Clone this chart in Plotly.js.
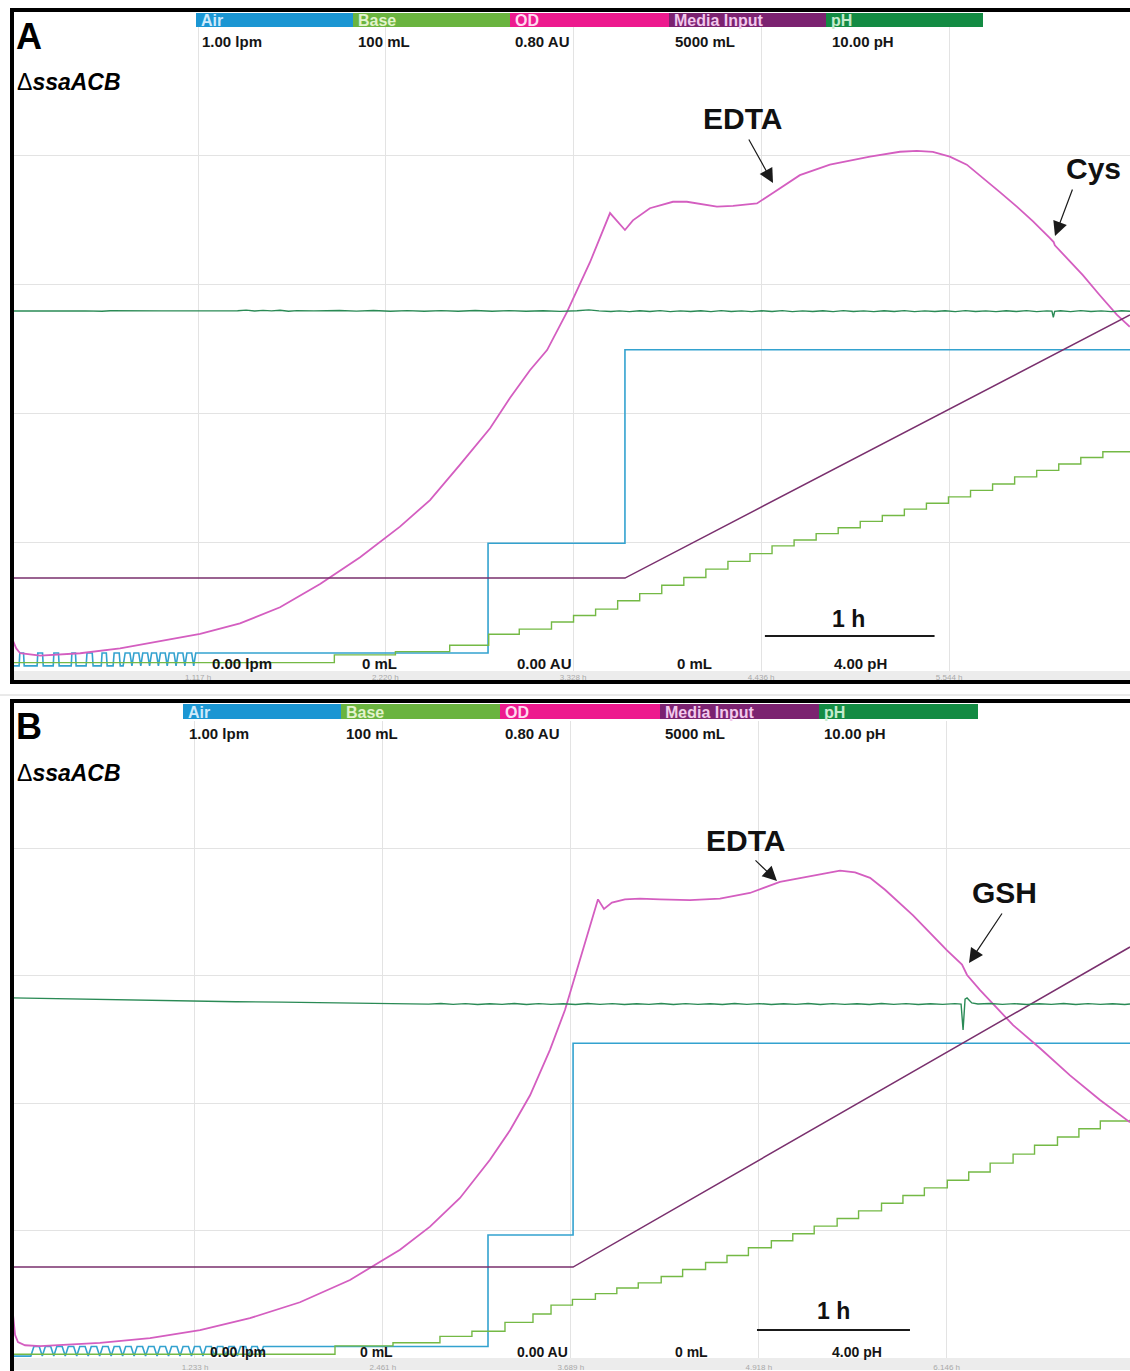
<!DOCTYPE html>
<html><head><meta charset="utf-8">
<script src="https://cdn.plot.ly/plotly-3.0.1.min.js"></script>
<style>html,body{margin:0;padding:0;background:#fff;} #chart{width:1130px;height:1371px;}</style>
</head><body><div id="chart"></div>
<script>
// ---------------- DATA (time in hours) ----------------
// Panel A
const A_tickvals = [1.117, 2.220, 3.328, 4.436, 5.544];
const A_ticktext = ["1.117 h", "2.220 h", "3.328 h", "4.436 h", "5.544 h"];
const A_air_t = [0.02, 0.062,0.066,0.088,0.092, 0.168,0.172,0.200,0.204, 0.263,0.267,0.294,0.298, 0.369,0.373,0.394,0.398, 0.457,0.462,0.493,0.498, 0.546,0.551,0.576,0.581, 0.616,0.622,0.652,0.658, 0.675,0.687,0.715,0.727,0.739,0.767,0.779,0.791,0.819,0.831,0.843,0.871,0.883,0.895,0.923,0.935,0.947,0.975,0.987,0.999,1.027,1.039,1.051,1.079,1.091,1.103, 2.826,2.826,3.633,3.633,6.61];
const A_air_v = [0.008, 0.008,0.028,0.028,0.008, 0.008,0.028,0.028,0.008, 0.008,0.028,0.028,0.008, 0.008,0.028,0.028,0.008, 0.008,0.028,0.028,0.008, 0.008,0.028,0.028,0.008, 0.008,0.028,0.028,0.008, 0.008,0.028,0.028,0.008,0.028,0.028,0.008,0.028,0.028,0.008,0.028,0.028,0.008,0.028,0.028,0.008,0.028,0.028,0.008,0.028,0.028,0.008,0.028,0.028,0.008,0.028, 0.028,0.198,0.198,0.498,0.498];
const A_base_t = [0.02,1.92,2.28,2.60,2.83,3.01,3.20,3.33,3.46,3.59,3.72,3.85,3.98,4.11,4.24,4.37,4.50,4.63,4.76,4.89,5.02,5.15,5.28,5.41,5.54,5.67,5.80,5.93,6.06,6.19,6.32,6.45,6.61];
const A_base_v = [1.3,2.5,3.0,4.0,5.7,6.5,7.6,8.6,9.6,10.9,12.0,13.3,14.5,15.8,17.0,18.2,19.4,20.3,21.3,22.2,23.2,24.1,25.1,26.0,27.0,28.0,29.0,30.1,31.1,32.1,33.1,34.0,34.0];
const A_od_t = [0.021,0.045,0.068,0.186,0.422,0.657,0.893,1.129,1.364,1.600,1.836,2.072,2.307,2.484,2.661,2.838,2.956,3.073,3.174,3.291,3.427,3.545,3.633,3.680,3.780,3.916,3.998,4.175,4.270,4.411,4.505,4.664,4.841,5.077,5.254,5.354,5.448,5.548,5.648,5.743,5.843,5.943,6.037,6.138,6.160,6.167,6.238,6.332,6.432,6.532,6.609];
const A_od_v = [0.040,0.028,0.022,0.019,0.022,0.028,0.037,0.046,0.059,0.079,0.108,0.141,0.179,0.212,0.256,0.301,0.339,0.373,0.398,0.445,0.507,0.568,0.547,0.559,0.574,0.582,0.582,0.576,0.577,0.580,0.593,0.615,0.628,0.638,0.644,0.645,0.644,0.638,0.628,0.612,0.594,0.576,0.558,0.537,0.532,0.528,0.512,0.491,0.466,0.442,0.427];
const A_media_t = [0.02, 3.633, 6.61];
const A_media_v = [720, 720, 2760];
const A_ph_t = [0.02,0.22,0.25,0.30,0.45,0.55,0.60,0.90,1.20,1.30,1.35,1.40,1.45,1.50,1.55,1.60,1.65,1.70,1.80,1.95,2.05,2.15,2.25,2.35,2.45,2.55,2.65,2.75,2.85,2.95,3.05,3.15,3.25,3.35,3.42,3.48,3.55,3.60,3.66,3.72,3.78,3.84,3.90,3.96,4.02,4.08,4.14,4.20,4.26,4.32,4.38,4.44,4.50,4.56,4.62,4.68,4.74,4.80,4.86,4.92,4.98,5.04,5.10,5.16,5.22,5.28,5.34,5.40,5.46,5.52,5.58,5.64,5.70,5.76,5.82,5.88,5.94,6.00,6.06,6.12,6.150,6.158,6.166,6.20,6.26,6.32,6.38,6.44,6.50,6.56,6.61];
const A_ph_v = [7.349,7.349,7.356,7.354,7.350,7.346,7.351,7.350,7.350,7.354,7.351,7.357,7.349,7.355,7.350,7.356,7.347,7.352,7.350,7.354,7.348,7.353,7.347,7.352,7.346,7.352,7.347,7.353,7.347,7.352,7.346,7.351,7.345,7.351,7.359,7.350,7.344,7.350,7.343,7.351,7.344,7.352,7.343,7.350,7.344,7.351,7.343,7.352,7.344,7.350,7.343,7.351,7.344,7.352,7.343,7.350,7.344,7.351,7.343,7.352,7.344,7.350,7.343,7.351,7.344,7.352,7.343,7.350,7.344,7.351,7.343,7.352,7.344,7.350,7.343,7.351,7.344,7.352,7.343,7.350,7.348,7.290,7.345,7.351,7.343,7.352,7.344,7.350,7.343,7.351,7.346];

// Panel B
const B_tickvals = [1.233, 2.461, 3.689, 4.918, 6.146];
const B_ticktext = ["1.233 h", "2.461 h", "3.689 h", "4.918 h", "6.146 h"];
const B_air_t = [0.037, 0.160,0.180,0.215, 0.235,0.255,0.290, 0.310,0.330,0.365, 0.385,0.405,0.440, 0.460,0.480,0.515, 0.535,0.555,0.590, 0.610,0.630,0.665, 0.685,0.705,0.740, 0.760,0.780,0.815, 0.835,0.855,0.890, 0.910,0.930,0.965, 0.985,1.005,1.040, 1.060,1.080,1.115, 1.135,1.155,1.190, 1.210,1.230,1.265, 1.285,1.305,1.340, 1.360,1.380,1.415, 1.435,1.455,1.490, 1.510,1.530,1.565, 1.585,1.605,1.640, 1.660,1.680, 3.148,3.148,3.704,3.704,7.344];
const B_air_v = [0.003, 0.003,0.018,0.018, 0.003,0.018,0.018, 0.003,0.018,0.018, 0.003,0.018,0.018, 0.003,0.018,0.018, 0.003,0.018,0.018, 0.003,0.018,0.018, 0.003,0.018,0.018, 0.003,0.018,0.018, 0.003,0.018,0.018, 0.003,0.018,0.018, 0.003,0.018,0.018, 0.003,0.018,0.018, 0.003,0.018,0.018, 0.003,0.018,0.018, 0.003,0.018,0.018, 0.003,0.018,0.018, 0.003,0.018,0.018, 0.003,0.018,0.018, 0.003,0.018,0.018, 0.003,0.018, 0.018,0.193,0.193,0.494,0.494];
const B_base_t = [0.037,2.148,2.527,2.834,3.043,3.259,3.442,3.56,3.70,3.85,3.99,4.13,4.28,4.42,4.57,4.71,4.85,5.00,5.14,5.28,5.43,5.57,5.72,5.86,6.00,6.15,6.29,6.43,6.58,6.72,6.87,7.01,7.15,7.344];
const B_base_v = [0.6,1.9,2.4,3.4,4.2,5.6,6.9,8.3,9.2,10.1,11.0,11.8,12.8,13.9,15.0,16.1,17.3,18.4,19.5,20.7,21.9,23.1,24.3,25.5,26.7,27.9,29.2,30.6,32.0,33.4,34.7,36.0,37.2,37.4];
const B_od_t = [0.037,0.057,0.076,0.122,0.220,0.612,0.939,1.266,1.592,1.919,2.246,2.573,2.769,2.965,3.161,3.292,3.423,3.553,3.651,3.749,3.828,3.867,3.906,3.958,4.043,4.141,4.272,4.468,4.664,4.860,5.056,5.253,5.449,5.547,5.645,5.743,5.841,5.926,6.037,6.148,6.246,6.279,6.364,6.475,6.580,6.756,6.952,7.148,7.344];
const B_od_v = [0.067,0.029,0.020,0.016,0.015,0.019,0.025,0.035,0.050,0.070,0.098,0.136,0.165,0.201,0.249,0.286,0.330,0.387,0.437,0.500,0.553,0.576,0.564,0.572,0.576,0.577,0.576,0.575,0.577,0.584,0.598,0.605,0.612,0.610,0.603,0.588,0.571,0.556,0.534,0.512,0.494,0.481,0.462,0.440,0.418,0.389,0.355,0.324,0.296];
const B_media_t = [0.037, 3.704, 7.344];
const B_media_v = [714, 714, 3226];
const B_ph_t = [0.037,0.3,0.6,0.9,1.2,1.5,1.8,2.1,2.4,2.7,2.76,2.84,2.92,3.00,3.08,3.16,3.24,3.32,3.40,3.48,3.56,3.64,3.72,3.80,3.88,3.96,4.04,4.12,4.20,4.28,4.36,4.44,4.52,4.60,4.68,4.76,4.84,4.92,5.00,5.08,5.16,5.24,5.32,5.40,5.48,5.56,5.64,5.72,5.80,5.88,5.96,6.04,6.12,6.20,6.240,6.253,6.266,6.279,6.31,6.35,6.43,6.51,6.59,6.67,6.75,6.83,6.91,6.99,7.07,7.15,7.23,7.31,7.344];
const B_ph_v = [7.392,7.385,7.378,7.370,7.362,7.356,7.352,7.345,7.341,7.338,7.333,7.339,7.331,7.338,7.330,7.337,7.331,7.339,7.330,7.338,7.331,7.337,7.330,7.339,7.331,7.338,7.330,7.337,7.331,7.339,7.330,7.338,7.331,7.337,7.330,7.339,7.331,7.338,7.330,7.337,7.331,7.339,7.330,7.338,7.331,7.337,7.330,7.339,7.331,7.338,7.330,7.337,7.331,7.338,7.334,7.089,7.380,7.391,7.345,7.334,7.339,7.331,7.338,7.330,7.337,7.331,7.339,7.330,7.338,7.331,7.337,7.330,7.335];

// channel header: names, full-scale and zero labels
const channels = ["Air", "Base", "OD", "Media Input", "pH"];
const maxLabels = ["1.00 lpm", "100 mL", "0.80 AU", "5000 mL", "10.00 pH"];
const minLabels = ["0.00 lpm", "0 mL", "0.00 AU", "0 mL", "4.00 pH"];
const scaleMin = [0, 0, 0, 0, 4];
const scaleMax = [1, 100, 0.8, 5000, 10];

// ---------------- STYLE ----------------
const W = 1130, H = 1371;
const FONT = 'Liberation Sans, Arial, Helvetica, sans-serif';
const px = x => x / W;
const py = y => 1 - y / H;
const barColors = ['#1b96d3', '#6ab43f', '#ed1a8e', '#7b2270', '#138b43'];
const barText = ['#cfeafb', '#e2f3cc', '#ffd9ef', '#f2c8ec', '#c3ebcd'];
const lineColors = {air: '#33a2cf', base: '#74b945', od: '#d45ec0', media: '#7a306e', ph: '#2a8a55'};

function tr(x, y, xa, ya, color, width, shape) {
  return {type: 'scatter', mode: 'lines', x: x, y: y, xaxis: xa, yaxis: ya,
    line: {color: color, width: width, shape: shape || 'linear'}, hoverinfo: 'skip', showlegend: false};
}

const data = [
  tr(A_base_t, A_base_v, 'x', 'y2', lineColors.base, 1.4, 'hv'),
  tr(A_media_t, A_media_v, 'x', 'y4', lineColors.media, 1.5),
  tr(A_ph_t, A_ph_v, 'x', 'y5', lineColors.ph, 1.4),
  tr(A_air_t, A_air_v, 'x', 'y', lineColors.air, 1.6),
  tr(A_od_t, A_od_v, 'x', 'y3', lineColors.od, 1.8),
  tr(B_base_t, B_base_v, 'x2', 'y7', lineColors.base, 1.4, 'hv'),
  tr(B_media_t, B_media_v, 'x2', 'y9', lineColors.media, 1.5),
  tr(B_ph_t, B_ph_v, 'x2', 'y10', lineColors.ph, 1.4),
  tr(B_air_t, B_air_v, 'x2', 'y6', lineColors.air, 1.6),
  tr(B_od_t, B_od_v, 'x2', 'y8', lineColors.od, 1.8)
];

// panel geometry (pixels)
const P = [
  {top: 26, bottom: 671, xr: [0.02, 6.61], tv: A_tickvals, tt: A_ticktext, border: [10, 682], barTop: 13, barBot: 27,
   bars: [196, 353, 510, 669, 826, 983], valY: 42, minY: 663, minSize: 15, standoff: 0, minX: [210, 360, 515, 675, 832], maxX: [200, 356, 513, 673, 830],
   letter: 'A', letterY: 36, strainY: 82, scale: [4.458, 5.458], scaleY: 636, scaleTextX: 848, scaleTextY: 619},
  {top: 721, bottom: 1358, xr: [0.037, 7.344], tv: B_tickvals, tt: B_ticktext, border: [701, 1400], barTop: 704, barBot: 719,
   bars: [183, 341, 500, 660, 819, 978], valY: 733, minY: 1352, minSize: 14, standoff: 3, minX: [208, 358, 515, 673, 830], maxX: [187, 344, 503, 663, 822],
   letter: 'B', letterY: 727, strainY: 773, scale: [4.906, 5.906], scaleY: 1330, scaleTextX: 833, scaleTextY: 1311}
];

const layout = {
  width: W, height: H, margin: {l: 0, r: 0, t: 0, b: 0},
  paper_bgcolor: '#ffffff', plot_bgcolor: 'rgba(0,0,0,0)', showlegend: false,
  font: {family: FONT},
  shapes: [], annotations: []
};

P.forEach((p, i) => {
  const xk = i === 0 ? 'xaxis' : 'xaxis2';
  const xid = i === 0 ? 'x' : 'x2';
  const baseY = i === 0 ? 1 : 6;
  const baseId = 'y' + (baseY === 1 ? '' : baseY);
  layout[xk] = {domain: [px(12), 1], range: p.xr, anchor: baseId, tickvals: p.tv, ticktext: p.tt,
    ticks: '', showline: false, zeroline: false, showgrid: true, gridcolor: '#e3e3e3', gridwidth: 1,
    tickfont: {family: FONT, size: 8, color: '#a9a9a9'}, ticklabelstandoff: p.standoff, fixedrange: true};
  for (let k = 0; k < 5; k++) {
    const n = baseY + k;
    const key = 'yaxis' + (n === 1 ? '' : n);
    const ax = {range: [scaleMin[k], scaleMax[k]], anchor: xid, fixedrange: true};
    if (k === 0) {
      Object.assign(ax, {domain: [py(p.bottom), py(p.top)], showgrid: true, gridcolor: '#e3e3e3',
        tickvals: [0.2, 0.4, 0.6, 0.8], showticklabels: false, ticks: '', zeroline: false, showline: false});
    } else {
      Object.assign(ax, {overlaying: baseId, visible: false});
    }
    layout[key] = ax;
  }
  // tick-label strip
  layout.shapes.push({type: 'rect', xref: 'paper', yref: 'paper', x0: px(12), x1: 1, y0: py(p.bottom + 12), y1: py(p.bottom),
    fillcolor: '#ececec', line: {width: 0}, layer: 'below'});
  // header bars
  for (let k = 0; k < 5; k++) {
    layout.shapes.push({type: 'rect', xref: 'paper', yref: 'paper', x0: px(p.bars[k]), x1: px(p.bars[k + 1]),
      y0: py(p.barBot), y1: py(p.barTop), fillcolor: barColors[k], line: {width: 0}, layer: 'above'});
    layout.annotations.push({xref: 'paper', yref: 'paper', x: px(p.bars[k] + 3), y: py((p.barTop + p.barBot) / 2 + 1),
      xanchor: 'left', yanchor: 'middle', showarrow: false, text: '<b>' + channels[k] + '</b>',
      font: {family: FONT, size: 16, color: barText[k]}});
    layout.annotations.push({xref: 'paper', yref: 'paper', x: px(p.maxX[k]), y: py(p.valY),
      xanchor: 'left', yanchor: 'middle', showarrow: false, text: '<b>' + maxLabels[k] + '</b>',
      font: {family: FONT, size: 15, color: '#151515'}});
    layout.annotations.push({xref: 'paper', yref: 'paper', x: px(p.minX[k]), y: py(p.minY),
      xanchor: 'left', yanchor: 'middle', showarrow: false, text: '<b>' + minLabels[k] + '</b>',
      font: {family: FONT, size: p.minSize, color: '#151515'}});
  }
  // panel border
  layout.shapes.push({type: 'rect', xref: 'paper', yref: 'paper', x0: px(12), x1: 1.05, y0: py(p.border[1]), y1: py(p.border[0]),
    line: {color: '#000', width: 4}, fillcolor: 'rgba(0,0,0,0)', layer: 'above'});
  // 1 h scale bar (data coordinates along the time axis)
  layout.shapes.push({type: 'line', xref: xid, yref: 'paper', x0: p.scale[0], x1: p.scale[1], y0: py(p.scaleY), y1: py(p.scaleY),
    line: {color: '#1a1a1a', width: 2}, layer: 'above'});
  layout.annotations.push({xref: 'paper', yref: 'paper', x: px(p.scaleTextX), y: py(p.scaleTextY), xanchor: 'center', yanchor: 'middle',
    showarrow: false, text: '<b>1 h</b>', font: {family: FONT, size: 23, color: '#111'}});
  // panel letter and strain
  layout.annotations.push({xref: 'paper', yref: 'paper', x: px(14), y: py(p.letterY), xanchor: 'left', yanchor: 'middle',
    showarrow: false, text: '<b>' + p.letter + '</b>', font: {family: FONT, size: 36, color: '#000'}});
  layout.annotations.push({xref: 'paper', yref: 'paper', x: px(15), y: py(p.strainY), xanchor: 'left', yanchor: 'middle',
    showarrow: false, text: 'Δ<b><i>ssaACB</i></b>', font: {family: FONT, size: 23, color: '#000'}});
});

// separator between panels
layout.shapes.push({type: 'line', xref: 'paper', yref: 'paper', x0: 0, x1: 1, y0: py(695), y1: py(695), line: {color: '#d4d4d4', width: 1}});

// treatment labels with arrows
const labels = [
  {text: 'EDTA', tx: 742, ty: 119, tip: [773, 183], tail: [748, 138]},
  {text: 'Cys', tx: 1093, ty: 168, tip: [1055, 236], tail: [1073, 188]},
  {text: 'EDTA', tx: 745, ty: 840, tip: [777, 881], tail: [754, 859]},
  {text: 'GSH', tx: 1004, ty: 892, tip: [969, 963], tail: [1003, 912]}
];
labels.forEach(l => {
  layout.annotations.push({xref: 'paper', yref: 'paper', x: px(l.tx), y: py(l.ty), xanchor: 'center', yanchor: 'middle',
    showarrow: false, text: '<b>' + l.text + '</b>', font: {family: FONT, size: 30, color: '#111'}});
  layout.annotations.push({xref: 'paper', yref: 'paper', x: px(l.tip[0]), y: py(l.tip[1]), text: '', showarrow: true,
    ax: l.tail[0] - l.tip[0], ay: l.tail[1] - l.tip[1], arrowhead: 2, arrowsize: 2.4, arrowwidth: 1.2,
    arrowcolor: '#1a1a1a', standoff: 0});
});

Plotly.newPlot('chart', data, layout, {staticPlot: true, displayModeBar: false});
</script></body></html>
